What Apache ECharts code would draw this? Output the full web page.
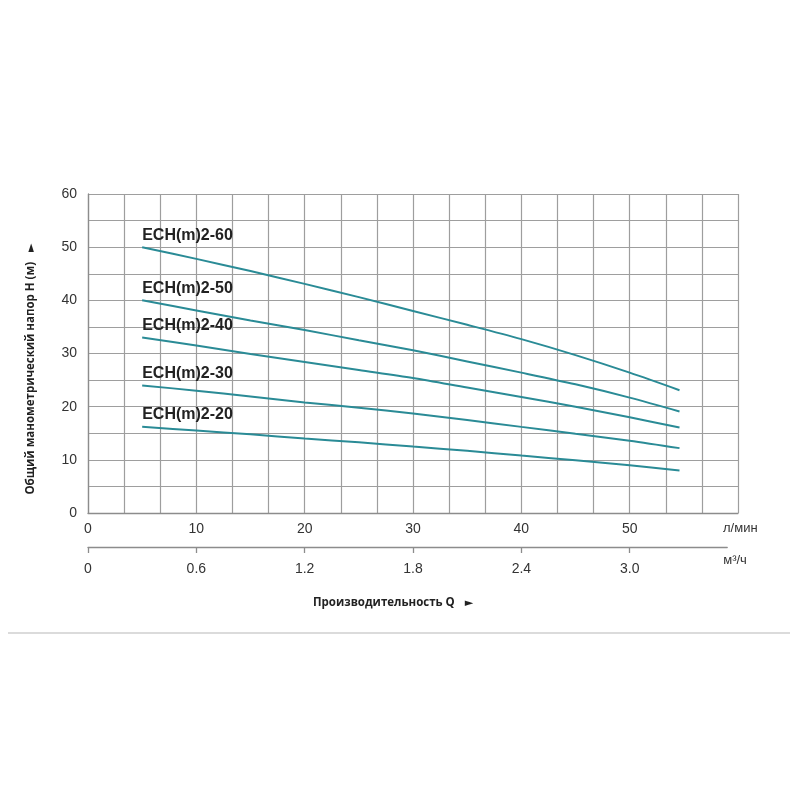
<!DOCTYPE html>
<html>
<head>
<meta charset="utf-8">
<script src="https://cdn.jsdelivr.net/npm/echarts@6/dist/echarts.min.js"></script>
<style>
  html, body { margin: 0; padding: 0; background: #fff; }
  #chart { width: 800px; height: 800px; }
</style>
</head>
<body>
<div id="chart"></div>
<script>
// flow, l/min
var flowLpm = [5, 10, 15, 20, 25, 30, 35, 40, 45, 50, 54.6];

// head H, m
var head60 = [50, 47.8, 45.5, 43.1, 40.6, 38.0, 35.4, 32.7, 29.7, 26.4, 23.1];
var head50 = [40, 38.1, 36.2, 34.4, 32.5, 30.6, 28.5, 26.4, 24.2, 21.7, 19.1];
var head40 = [33, 31.5, 29.9, 28.4, 26.9, 25.4, 23.6, 21.8, 20.0, 18.0, 16.1];
var head30 = [24, 23.0, 21.9, 20.8, 19.8, 18.7, 17.5, 16.2, 14.9, 13.6, 12.2];
var head20 = [16.2, 15.5, 14.8, 14.0, 13.3, 12.5, 11.7, 10.8, 9.9, 9.0, 8.0];

var pumpNames = ['ECH(m)2-60', 'ECH(m)2-50', 'ECH(m)2-40', 'ECH(m)2-30', 'ECH(m)2-20'];
var pumpHeads = [head60, head50, head40, head30, head20];

// tick labels
var yTicks = [0, 10, 20, 30, 40, 50, 60];
var lpmTicks = [0, 10, 20, 30, 40, 50];
var m3hTicks = [0, 0.6, 1.2, 1.8, 2.4, 3.0];

var lineColor = '#2a8b96';
var gridColor = '#9e9e9e';
var axisColor = '#8c8c8c';
var font = '"Liberation Sans", Arial, sans-serif';
var boldFont = '"Open Sans", sans-serif';

function buildData(heads, name) {
	return flowLpm.map(function (q, i) {
		if (i === 0) {
			return {
				value: [q, heads[i]],
				label: {
					show: true,
					position: 'top',
					align: 'left',
					distance: 4,
					formatter: name,
					fontFamily: font,
					fontWeight: 'bold',
					fontSize: 16,
					color: '#222',
				},
			};
		}
		return [q, heads[i]];
	});
}

var series = pumpNames.map(function (name, k) {
	return {
		name: name,
		type: 'line',
		xAxisIndex: 0,
		yAxisIndex: 0,
		smooth: 0.3,
		symbol: 'circle',
		symbolSize: 0,
		showSymbol: true,
		silent: true,
		lineStyle: { color: lineColor, width: 2 },
		itemStyle: { color: lineColor },
		data: buildData(pumpHeads[k], name),
	};
});

var option = {
	backgroundColor: '#fff',
	animation: false,
	grid: [
		{ left: 88, top: 194, width: 650, height: 319 },
		// second scale (m³/ч) below the chart
		{ left: 88, top: 546, width: 639.2, height: 1 },
	],
	xAxis: [
		{
			type: 'value',
			gridIndex: 0,
			min: 0,
			max: 60,
			interval: 10,
			splitLine: { show: false },
			axisTick: { show: false },
			axisLine: { show: true, lineStyle: { color: axisColor, width: 1.3 } },
			axisLabel: {
				customValues: lpmTicks,
				margin: 9,
				fontFamily: font,
				fontSize: 14,
				color: '#333',
			},
			name: 'л/мин',
			nameLocation: 'end',
			nameGap: -15,
			nameTextStyle: {
				fontFamily: font,
				fontSize: 13,
				color: '#333',
				verticalAlign: 'top',
				padding: [9, 0, 0, 0],
			},
		},
		{
			// vertical grid lines, 0.2 m³/ч apart
			type: 'value',
			gridIndex: 0,
			position: 'top',
			min: 0,
			max: 18,
			interval: 1,
			axisLine: { show: false },
			axisTick: { show: false },
			axisLabel: { show: false },
			splitLine: { show: true, lineStyle: { color: gridColor, width: 1.2 } },
		},
		{
			type: 'value',
			gridIndex: 1,
			min: 0,
			max: 3.54,
			splitLine: { show: false },
			axisLine: { show: true, lineStyle: { color: axisColor, width: 1.3 } },
			axisTick: {
				show: true,
				customValues: m3hTicks,
				length: 6,
				lineStyle: { color: axisColor, width: 1.3 },
			},
			axisLabel: {
				customValues: m3hTicks,
				margin: 15,
				fontFamily: font,
				fontSize: 14,
				color: '#333',
				formatter: function (v) {
					return v === 0 ? '0' : v.toFixed(1);
				},
			},
			name: 'м³/ч',
			nameLocation: 'end',
			nameGap: -4,
			nameTextStyle: {
				fontFamily: font,
				fontSize: 13,
				color: '#333',
				verticalAlign: 'top',
				padding: [7, 0, 0, 0],
			},
		},
	],
	yAxis: [
		{
			type: 'value',
			gridIndex: 0,
			min: 0,
			max: 60,
			interval: 5,
			axisLine: { show: true, lineStyle: { color: axisColor, width: 1.3 } },
			axisTick: { show: false },
			splitLine: { show: true, lineStyle: { color: gridColor, width: 1.2 } },
			axisLabel: {
				customValues: yTicks,
				margin: 11,
				fontFamily: font,
				fontSize: 14,
				color: '#333',
			},
		},
		{
			type: 'value',
			gridIndex: 1,
			show: false,
		},
	],
	graphic: [
		{
			// rotated 90° counter-clockwise, so ► turns into ▲
			type: 'text',
			x: 31,
			y: 369,
			rotation: Math.PI / 2,
			style: {
				text: '{t|Общий манометрический напор H (м)}   {a|►}',
				rich: {
					t: { fontFamily: boldFont, fontWeight: 'bold', fontSize: 11.5, fill: '#222' },
					a: { fontFamily: 'DejaVu Sans', fontSize: 11, fill: '#222' },
				},
				align: 'center',
				verticalAlign: 'middle',
			},
		},
		{
			type: 'text',
			x: 313,
			y: 603,
			style: {
				text: '{t|Производительность Q}   {a|►}',
				rich: {
					t: { fontFamily: boldFont, fontWeight: 'bold', fontSize: 11.5, fill: '#222' },
					a: { fontFamily: 'DejaVu Sans', fontSize: 11, fill: '#222' },
				},
				align: 'left',
				verticalAlign: 'middle',
			},
		},
		{
			type: 'line',
			shape: { x1: 8, y1: 633, x2: 790, y2: 633 },
			style: { stroke: '#cfcfcf', lineWidth: 1.5 },
		},
	],
	series: series,
};

var myChart = echarts.init(document.getElementById('chart'));
myChart.setOption(option);
</script>
</body>
</html>
